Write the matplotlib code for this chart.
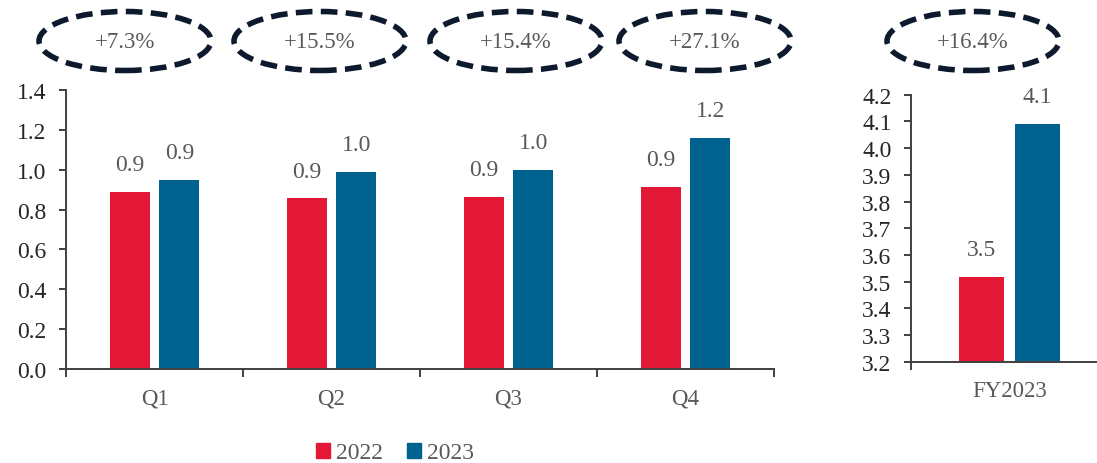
import matplotlib.pyplot as plt
from matplotlib.patches import Ellipse, Patch

plt.rcParams['font.family'] = ['Liberation Serif', 'DejaVu Serif']

quarters = ['Q1', 'Q2', 'Q3', 'Q4']
q_2022 = [0.888, 0.856, 0.863, 0.913]
q_2023 = [0.948, 0.990, 0.998, 1.159]
fy_label = 'FY2023'
fy_2022 = 3.517
fy_2023 = 4.090
growth_q = ['+7.3%', '+15.5%', '+15.4%', '+27.1%']
growth_fy = '+16.4%'

RED = '#e31837'
BLUE = '#00628f'
GREY = '#595959'
AXC = '#404040'
NAVY = '#0d1a2e'

W, H = 1097, 464
fig = plt.figure(figsize=(W / 100, H / 100), dpi=100)


def style(ax):
    for s in ['top', 'right']:
        ax.spines[s].set_visible(False)
    for s in ['left', 'bottom']:
        ax.spines[s].set_color(AXC)
        ax.spines[s].set_linewidth(1.4)
    ax.tick_params(axis='y', direction='out', length=5, width=1.4, color=AXC,
                   labelsize=17, labelcolor='#262626', pad=9)
    ax.tick_params(axis='x', which='major', direction='out', length=6, width=1.4,
                   color=AXC, labelbottom=False)
    ax.tick_params(axis='x', which='minor', length=0, labelsize=16.5,
                   labelcolor=GREY, pad=13)


def labels(ax, xs, vals):
    for x, v in zip(xs, vals):
        ax.annotate(f'{v:.1f}', (x, v), xytext=(0, 12), textcoords='offset points',
                    ha='center', va='bottom', fontsize=17, color=GREY)


# quarterly panel
ax1 = fig.add_axes([66 / W, 1 - 370 / H, (774 - 66) / W, (370 - 91) / H])
bw, off = 0.226, 0.141
x = list(range(len(quarters)))
ax1.bar([i - off for i in x], q_2022, bw, color=RED)
ax1.bar([i + off for i in x], q_2023, bw, color=BLUE)
labels(ax1, [i - off for i in x], q_2022)
labels(ax1, [i + off for i in x], q_2023)
ax1.set_xlim(-0.5, len(quarters) - 0.5)
ax1.set_ylim(0, 1.4)
ax1.set_yticks([i / 5 for i in range(8)])
ax1.set_yticklabels([f'{i / 5:.1f}' for i in range(8)])
ax1.set_xticks([i - 0.5 for i in range(len(quarters) + 1)])
ax1.set_xticks(x, minor=True)
ax1.set_xticklabels(quarters, minor=True)
style(ax1)

# full-year panel
ax2 = fig.add_axes([911 / W, 1 - 362.7 / H, (W - 911) / W, (362.7 - 95.7) / H])
bw2, off2 = 0.242, 0.151
ax2.bar([-off2], [fy_2022], bw2, color=RED)
ax2.bar([off2], [fy_2023], bw2, color=BLUE)
labels(ax2, [-off2, off2], [fy_2022, fy_2023])
ax2.set_xlim(-0.53, 0.47)
ax2.set_ylim(3.2, 4.2)
ax2.set_yticks([3.2 + i / 10 for i in range(11)])
ax2.set_yticklabels([f'{3.2 + i / 10:.1f}' for i in range(11)])
ax2.set_xticks([-0.53])
ax2.set_xticks([0], minor=True)
ax2.set_xticklabels([fy_label], minor=True)
style(ax2)

# growth bubbles
for cx, txt in zip([125, 320, 516, 705, 973], growth_q + [growth_fy]):
    e = Ellipse((cx / W, 1 - 42 / H), 172 / W, 59 / H, transform=fig.transFigure,
                fill=False, edgecolor=NAVY, linewidth=4.0, linestyle=(0, (3, 1.5)))
    fig.add_artist(e)
    fig.text(cx / W, 1 - 43 / H, txt, ha='center', va='center', fontsize=16.5, color=GREY)

handles = [Patch(color=RED, label='2022'), Patch(color=BLUE, label='2023')]
leg = fig.legend(handles=handles, loc='center', bbox_to_anchor=(395 / W, 1 - 454 / H),
                 ncol=2, frameon=False, fontsize=17, handlelength=0.6, handleheight=0.6,
                 handletextpad=0.25, columnspacing=1.0)
for t in leg.get_texts():
    t.set_color(GREY)

fig.savefig('out.png', dpi=100)
